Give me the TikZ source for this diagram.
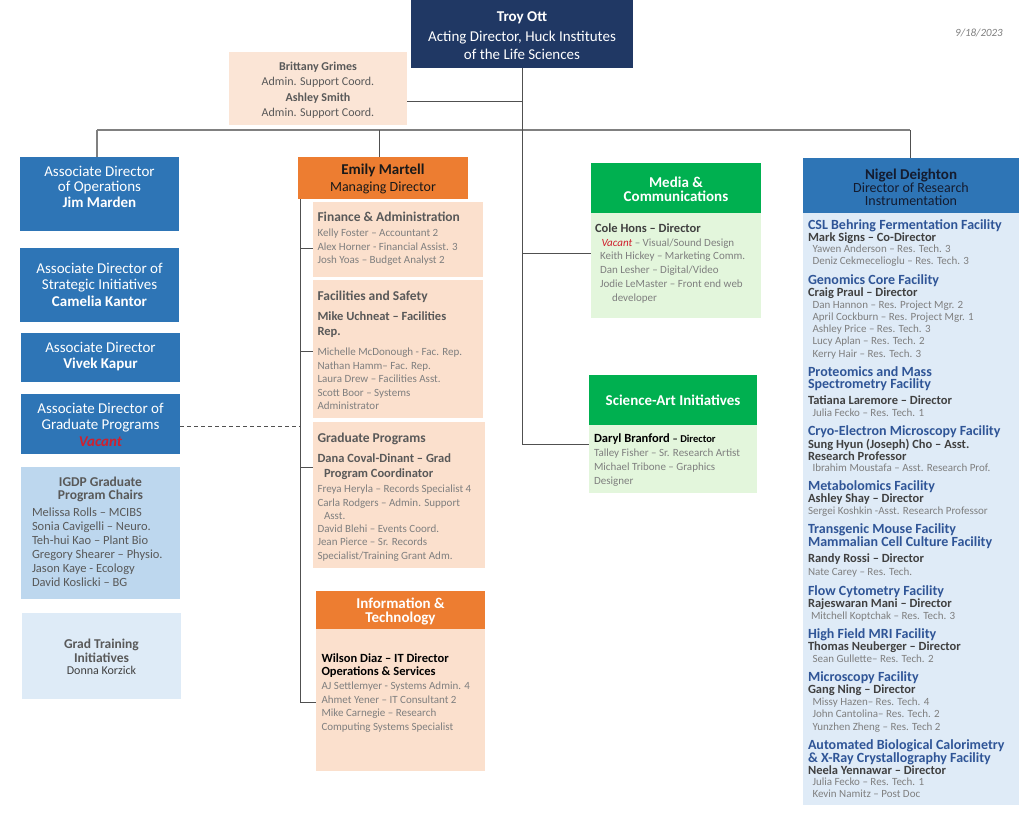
\documentclass[tikz,border=0pt]{standalone}
\usepackage{fontspec}
\setmainfont{Carlito}
\newcommand{\myfs}[2]{\fontsize{#1}{#2}\selectfont}
\definecolor{navy}{HTML}{203864}
\definecolor{peach}{HTML}{FBE5D6}
\definecolor{peachb}{HTML}{FBE0CD}
\definecolor{adblue}{HTML}{2E75B6}
\definecolor{lblue}{HTML}{BDD7EE}
\definecolor{llblue}{HTML}{DEEBF7}
\definecolor{orng}{HTML}{ED7D31}
\definecolor{grn}{HTML}{00B050}
\definecolor{lgrn}{HTML}{E3F6DC}
\definecolor{nbody}{HTML}{DFEBF7}
\definecolor{facblue}{HTML}{2F5597}
\definecolor{sg}{HTML}{7F7F7F}
\definecolor{ng}{HTML}{595959}
\definecolor{dg}{HTML}{404040}
\definecolor{vred}{HTML}{D0202E}
\definecolor{lc}{HTML}{505050}
\definecolor{busc}{HTML}{808080}
\definecolor{hdark}{HTML}{141C30}
\begin{document}
\begin{tikzpicture}[x=1pt,y=-1pt,
  t/.style={inner sep=0pt, outer sep=0pt},
  L/.style={t, anchor=west},
  C/.style={t, anchor=center},
  box/.style={t, anchor=north west, draw=none},
  stf/.style={L, font=\myfs{11}{13}, text height=8pt, text depth=2.3pt, text=sg},
  fnm/.style={L, font=\bfseries\myfs{12.5}{15}, text height=9pt, text depth=2.6pt, text=dg},
  enm/.style={L, font=\bfseries\myfs{12.5}{15}, text height=9pt, text depth=2.6pt, text=ng},
  ftl/.style={L, font=\bfseries\myfs{14}{17}, text height=10pt, text depth=2.9pt, text=facblue},
  sec/.style={L, font=\bfseries\myfs{13.5}{16}, text height=9.7pt, text depth=2.8pt, text=ng},
  wc/.style={C, font=\myfs{15}{18}, text height=10.8pt, text depth=3.1pt, text=white},
  wcb/.style={wc, font=\bfseries\myfs{15}{18}},
  gc/.style={C, font=\myfs{12}{14}, text height=8.7pt, text depth=2.5pt, text=ng},
  gcb/.style={gc, font=\bfseries\myfs{12}{14}},
  igl/.style={L, font=\myfs{12.5}{15}, text height=9pt, text depth=2.6pt, text=ng},
  igt/.style={C, font=\bfseries\myfs{13.5}{16}, text height=9.7pt, text depth=2.8pt, text=ng},
  conn/.style={draw=lc, line width=0.9pt},
  bus/.style={draw=busc, line width=1.4pt}
]
\useasboundingbox (0,0) rectangle (1024,812);
\fill[white] (0,0) rectangle (1024,812);

% ---------- boxes ----------
\node[box, fill=navy, minimum width=222pt, minimum height=68pt] (troy) at (411,0) {};
\node[box, fill=peach, minimum width=178pt, minimum height=73pt] (brit) at (229,52) {};
\node[box, fill=adblue, minimum width=159pt, minimum height=74pt] (ops) at (20,157) {};
\node[box, fill=adblue, minimum width=159pt, minimum height=74pt] (strat) at (20,248) {};
\node[box, fill=adblue, minimum width=159pt, minimum height=49pt] (vivek) at (21,333) {};
\node[box, fill=adblue, minimum width=159pt, minimum height=60pt] (gradp) at (21,394) {};
\node[box, fill=lblue, minimum width=159pt, minimum height=132pt] (igdp) at (21,467) {};
\node[box, fill=llblue, minimum width=159pt, minimum height=86pt] (gti) at (22,613) {};
\node[box, fill=orng, minimum width=170pt, minimum height=42pt] (emily) at (298,157) {};
\node[box, fill=peachb, minimum width=170pt, minimum height=75pt] (fin) at (313,202) {};
\node[box, fill=peachb, minimum width=170pt, minimum height=138pt] (fac) at (313,280) {};
\node[box, fill=peachb, minimum width=172pt, minimum height=146pt] (grad) at (313,422) {};
\node[box, fill=orng, minimum width=169pt, minimum height=38pt] (ith) at (316,591) {};
\node[box, fill=peachb, minimum width=169pt, minimum height=142pt] (itb) at (316,629) {};
\node[box, fill=grn, minimum width=170pt, minimum height=50pt] (mediah) at (591,163) {};
\node[box, fill=lgrn, minimum width=170pt, minimum height=105pt] (mediab) at (591,213) {};
\node[box, fill=grn, minimum width=168pt, minimum height=50pt] (scih) at (589,375) {};
\node[box, fill=lgrn, minimum width=168pt, minimum height=68pt] (scib) at (589,425) {};
\node[box, fill=adblue, minimum width=216pt, minimum height=55pt] (nigelh) at (803,158) {};
\node[box, fill=nbody, minimum width=216pt, minimum height=592pt] (nigelb) at (803,213) {};

% ---------- connectors ----------
\coordinate (tb) at (522,444);
\coordinate (tm) at (522,253);
\coordinate (tbr) at (522,101);
\coordinate (bl) at (97,130);
\coordinate (bm) at (379,130);
\coordinate (br) at (910,130);
\draw[bus] (bl) -- (br);
\draw[bus] (bl) -- (bl |- ops.north);
\draw[conn] (bm) -- (bm |- emily.north);
\draw[conn] (br) -- (br |- nigelh.north);
\draw[conn] (troy.south) -- (tb) -- (tb -| scih.west);
\draw[conn] (tm) -- (tm -| mediab.west);
\draw[conn] (tbr) -- (tbr -| brit.east);
\coordinate (es) at (300,199);
\coordinate (ee) at (300,702);
\draw[conn] (es) -- (ee) -- (ee -| itb.west);
\coordinate (s1) at (300,248);
\coordinate (s2) at (300,351);
\coordinate (s3) at (300,467);
\draw[conn] (s1) -- (s1 -| fin.west);
\draw[conn] (s2) -- (s2 -| fac.west);
\draw[conn] (s3) -- (s3 -| grad.west);
\coordinate (dg) at (300,426);
\draw[conn, dash pattern=on 4pt off 3pt] (dg -| gradp.east) -- (dg);

\begin{scope}[shift={(0,1.8)}]
% ---------- Troy ----------
\node[wcb] (troy1) at (522,16) {Troy Ott};
\node[wc] (troy2) at (522,36) {Acting Director, Huck Institutes};
\node[wc] (troy3) at (522,54) {of the Life Sciences};
\node[C, font=\itshape\myfs{11}{13}, text=sg] (date) at (979,31) {9/18/2023};

% ---------- Brittany ----------
\node[gcb] (br1) at (318,66) {Brittany Grimes};
\node[gc] (br2) at (318,81) {Admin. Support Coord.};
\node[gcb] (br3) at (318,97) {Ashley Smith};
\node[gc] (br4) at (318,112) {Admin. Support Coord.};

% ---------- associate directors ----------
\node[wc] (op1) at (99.5,171) {Associate Director};
\node[wc] (op2) at (99.5,186) {of Operations};
\node[wcb] (op3) at (99.5,202) {Jim Marden};
\node[wc] (sa1) at (99.5,268) {Associate Director of};
\node[wc] (sa2) at (99.5,284) {Strategic Initiatives};
\node[wcb] (sa3) at (99.5,301) {Camelia Kantor};
\node[wc] (vk1) at (100.5,347) {Associate Director};
\node[wcb] (vk2) at (100.5,363) {Vivek Kapur};
\node[wc] (gp1) at (100.5,408) {Associate Director of};
\node[wc] (gp2) at (100.5,424) {Graduate Programs};
\node[wcb, text=vred] (gp3) at (100.5,441) {\itshape Vacant};

% ---------- IGDP ----------
\node[igt] (ig1) at (100.5,481) {IGDP Graduate};
\node[igt] (ig2) at (100.5,494.5) {Program Chairs};
\node[igl] (ig3) at (32,511) {Melissa Rolls – MCIBS};
\node[igl] (ig4) at (32,525) {Sonia Cavigelli – Neuro.};
\node[igl] (ig5) at (32,539) {Teh-hui Kao – Plant Bio};
\node[igl] (ig6) at (32,553) {Gregory Shearer – Physio.};
\node[igl] (ig7) at (32,567) {Jason Kaye - Ecology};
\node[igl] (ig8) at (32,581) {David Koslicki – BG};

% ---------- Grad Training ----------
\node[igt] (gt1) at (101.5,643) {Grad Training};
\node[igt] (gt2) at (101.5,657) {Initiatives};
\node[C, font=\myfs{12}{14}, text height=8.7pt, text depth=2.5pt, text=dg] (gt3) at (101.5,670) {Donna Korzick};

% ---------- Emily ----------
\node[C, font=\bfseries\myfs{15}{18}, text height=10.8pt, text depth=3.1pt, text=black!90] (em1) at (383,169) {Emily Martell};
\node[C, font=\myfs{14}{17}, text height=10.1pt, text depth=2.9pt, text=black!90] (em2) at (383,186) {Managing Director};

% Finance
\node[sec] (fi0) at (317.5,216) {Finance \& Administration};
\node[stf] (fi1) at (317.5,232) {Kelly Foster – Accountant 2};
\node[stf] (fi2) at (317.5,245.5) {Alex Horner - Financial Assist. 3};
\node[stf] (fi3) at (317.5,259) {Josh Yoas – Budget Analyst 2};
% Facilities
\node[sec] (fa0) at (317.5,295) {Facilities and Safety};
\node[enm] (fa1) at (317.5,315) {Mike Uchneat – Facilities};
\node[enm] (fa2) at (317.5,330.5) {Rep.};
\node[stf] (fa3) at (317.5,351) {Michelle McDonough - Fac. Rep.};
\node[stf] (fa4) at (317.5,364.5) {Nathan Hamm– Fac. Rep.};
\node[stf] (fa5) at (317.5,378) {Laura Drew – Facilities Asst.};
\node[stf] (fa6) at (317.5,391.5) {Scott Boor – Systems};
\node[stf] (fa7) at (317.5,405) {Administrator};
% Graduate Programs
\node[sec] (gr0) at (317.5,437.5) {Graduate Programs};
\node[enm] (gr1) at (317.5,457.5) {Dana Coval-Dinant – Grad};
\node[enm] (gr2) at (324,472.5) {Program Coordinator};
\node[stf] (gr3) at (317.5,488) {Freya Heryla – Records Specialist 4};
\node[stf] (gr4) at (317.5,501.5) {Carla Rodgers – Admin. Support};
\node[stf] (gr5) at (324,514.5) {Asst.};
\node[stf] (gr6) at (317.5,527.5) {David Blehi – Events Coord.};
\node[stf] (gr7) at (317.5,541) {Jean Pierce – Sr. Records};
\node[stf] (gr8) at (317.5,555) {Specialist/Training Grant Adm.};
% IT
\node[wcb] (it1) at (400.5,602.5) {Information \&};
\node[wcb] (it2) at (400.5,617) {Technology};
\node[enm, text=black] (it3) at (321.5,657) {Wilson Diaz – IT Director};
\node[enm, text=black] (it4) at (321.5,670.5) {Operations \& Services};
\node[stf] (it5) at (321.5,684.5) {AJ Settlemyer - Systems Admin. 4};
\node[stf] (it6) at (321.5,698.5) {Ahmet Yener – IT Consultant 2};
\node[stf] (it7) at (321.5,712) {Mike Carnegie – Research};
\node[stf] (it8) at (321.5,726) {Computing Systems Specialist};

% ---------- Media ----------
\node[wcb] (me1) at (676,182) {Media \&};
\node[wcb] (me2) at (676,196) {Communications};
\node[enm, text=dg] (me3) at (595,227) {Cole Hons – Director};
\node[stf] (me4) at (601.5,241.5) {\textcolor{vred}{\itshape Vacant} – Visual/Sound Design};
\node[stf] (me5) at (600,255) {Keith Hickey – Marketing Comm.};
\node[stf] (me6) at (600,268.5) {Dan Lesher – Digital/Video};
\node[stf] (me7) at (600,282.5) {Jodie LeMaster – Front end web};
\node[stf] (me8) at (612,296.5) {developer};

% ---------- Science-Art ----------
\node[wcb] (sc1) at (673,399.5) {Science-Art Initiatives};
\node[enm, text=black] (sc2) at (594,437.5) {Daryl Branford {\myfs{10.5}{12}– Director}};
\node[stf] (sc3) at (594,451.5) {Talley Fisher – Sr. Research Artist};
\node[stf] (sc4) at (594,465.5) {Michael Tribone – Graphics};
\node[stf] (sc5) at (594,479.5) {Designer};

% ---------- Nigel ----------
\node[C, font=\bfseries\myfs{15}{18}, text height=10.8pt, text depth=3.1pt, text=hdark] (ni1) at (911,173.5) {Nigel Deighton};
\node[C, font=\myfs{14}{17}, text height=10.1pt, text depth=2.9pt, text=hdark] (ni2) at (911,187.5) {Director of Research};
\node[C, font=\myfs{14}{17}, text height=10.1pt, text depth=2.9pt, text=hdark] (ni3) at (911,200.5) {Instrumentation};

\node[ftl] (c0) at (808,224) {CSL Behring Fermentation Facility};
\node[fnm] (c1) at (808,236) {Mark Signs – Co-Director};
\node[stf] (c2) at (812.5,248) {Yawen Anderson – Res. Tech. 3};
\node[stf] (c3) at (812.5,260) {Deniz Cekmecelioglu – Res. Tech. 3};

\node[ftl] (g0) at (808,279) {Genomics Core Facility};
\node[fnm] (g1) at (808,291) {Craig Praul – Director};
\node[stf] (g2) at (812.5,304) {Dan Hannon – Res. Project Mgr. 2};
\node[stf] (g3) at (812.5,316) {April Cockburn – Res. Project Mgr. 1};
\node[stf] (g4) at (812.5,328) {Ashley Price – Res. Tech. 3};
\node[stf] (g5) at (812.5,340) {Lucy Aplan – Res. Tech. 2};
\node[stf] (g6) at (812.5,352.5) {Kerry Hair – Res. Tech. 3};

\node[ftl] (p0) at (808,371.5) {Proteomics and Mass};
\node[ftl] (p1) at (808,383.5) {Spectrometry Facility};
\node[fnm] (p2) at (808,399) {Tatiana Laremore – Director};
\node[stf] (p3) at (812.5,412) {Julia Fecko – Res. Tech. 1};

\node[ftl] (y0) at (808,430.5) {Cryo-Electron Microscopy Facility};
\node[fnm] (y1) at (808,443) {Sung Hyun (Joseph) Cho – Asst.};
\node[fnm] (y2) at (808,455) {Research Professor};
\node[stf] (y3) at (812.5,467) {Ibrahim Moustafa – Asst. Research Prof.};

\node[ftl] (m0) at (808,485) {Metabolomics Facility};
\node[fnm] (m1) at (808,497.5) {Ashley Shay – Director};
\node[stf] (m2) at (808,510) {Sergei Koshkin -Asst. Research Professor};

\node[ftl] (tg0) at (808,528.5) {Transgenic Mouse Facility};
\node[ftl] (tg1) at (808,541.5) {Mammalian Cell Culture Facility};
\node[fnm] (tg2) at (808,557) {Randy Rossi – Director};
\node[stf] (tg3) at (808,571) {Nate Carey – Res. Tech.};

\node[ftl] (fl0) at (808,590) {Flow Cytometry Facility};
\node[fnm] (fl1) at (808,602) {Rajeswaran Mani – Director};
\node[stf] (fl2) at (811,614.5) {Mitchell Koptchak – Res. Tech. 3};

\node[ftl] (mr0) at (808,633) {High Field MRI Facility};
\node[fnm] (mr1) at (808,645) {Thomas Neuberger – Director};
\node[stf] (mr2) at (812.5,658) {Sean Gullette– Res. Tech. 2};

\node[ftl] (mi0) at (808,676) {Microscopy Facility};
\node[fnm] (mi1) at (808,688) {Gang Ning – Director};
\node[stf] (mi2) at (812.5,701) {Missy Hazen– Res. Tech. 4};
\node[stf] (mi3) at (812.5,713) {John Cantolina– Res. Tech. 2};
\node[stf] (mi4) at (812.5,725.5) {Yunzhen Zheng – Res. Tech 2};

\node[ftl] (a0) at (808,744) {Automated Biological Calorimetry};
\node[ftl] (a1) at (808,757) {\& X-Ray Crystallography Facility};
\node[fnm] (a2) at (808,769) {Neela Yennawar – Director};
\node[stf] (a3) at (812.5,781) {Julia Fecko – Res. Tech. 1};
\node[stf] (a4) at (812.5,793) {Kevin Namitz – Post Doc};
\end{scope}
\end{tikzpicture}
\end{document}
